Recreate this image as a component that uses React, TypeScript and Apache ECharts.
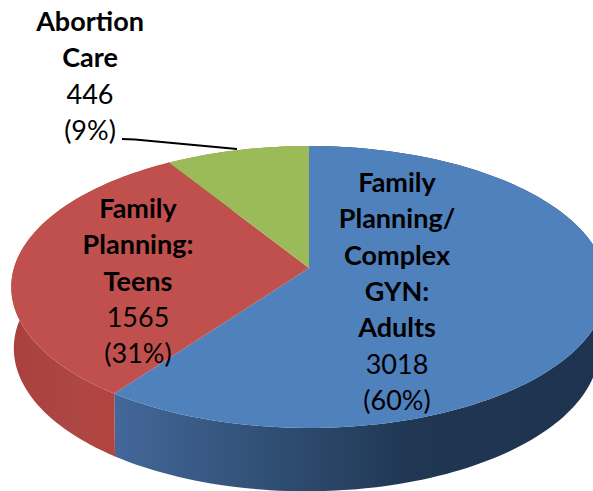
import React, { useEffect, useRef } from "react";
import * as echarts from "echarts";

const categories = [
  ["Family", "Planning/", "Complex", "GYN:", "Adults"],
  ["Family", "Planning:", "Teens"],
  ["Abortion", "Care"],
];
const values = [3018, 1565, 446];
const percents = ["(60%)", "(31%)", "(9%)"];
const topColors = ["#4F81BD", "#C0504D", "#9BBB59"];

const FONT = "Lato";
const total = values.reduce((a, b) => a + b, 0);

// perspective projection of the disc
const K = 0.1348;
const project = (deg: number, cx: number, cy: number, A: number, B: number) => {
  const t = (deg * Math.PI) / 180;
  const X = Math.sin(t);
  const Y = -Math.cos(t);
  const w = 1 - K * Y;
  return [cx + (A * X) / w, cy + (B * Y) / w];
};
const rimTop = (d: number) => project(d, 309, 268, 295, 138.4);
const rimBase = (d: number) => project(d, 306.5, 329, 290, 140.4);

const sliceAngles = (i: number) => {
  let s = 0;
  for (let j = 0; j < i; j++) s += values[j];
  return [(s / total) * 360, ((s + values[i]) / total) * 360];
};
const arc = (a: number, b: number, f: (d: number) => number[]) => {
  const pts: number[][] = [];
  const n = Math.max(2, Math.ceil((b - a) / 1.5));
  for (let k = 0; k <= n; k++) pts.push(f(a + ((b - a) * k) / n));
  return pts;
};

const wallFills = [
  new echarts.graphic.LinearGradient(
    117, 0, 593, 0,
    [
      { offset: 0, color: "#43679A" },
      { offset: 0.2, color: "#365881" },
      { offset: 0.45, color: "#294566" },
      { offset: 0.62, color: "#203653" },
      { offset: 1, color: "#1E3350" },
    ],
    true
  ),
  new echarts.graphic.LinearGradient(
    12, 0, 117, 0,
    [
      { offset: 0, color: "#A9403D" },
      { offset: 0.6, color: "#AD4744" },
      { offset: 1, color: "#B5433F" },
    ],
    true
  ),
  "#7F9A49",
];

const labelPlaces = [
  { x: 397, y: 290.5 },
  { x: 138, y: 280 },
  { x: 90, y: 75 },
];

export default function App() {
  const ref = useRef<HTMLDivElement>(null);
  useEffect(() => {
    document.body.style.margin = "0";
    const chart = echarts.init(ref.current!, undefined, { renderer: "svg" });
    const data = values.map((v) => ({ value: v }));
    chart.setOption({
      animation: false,
      backgroundColor: "#fff",
      series: [
        {
          type: "custom",
          coordinateSystem: "none",
          silent: true,
          z: 1,
          data,
          renderItem: (p: any) => {
            const [a, b] = sliceAngles(p.dataIndex);
            const points = [...arc(a, b, rimTop), ...arc(a, b, rimBase).reverse()];
            return {
              type: "polygon",
              shape: { points },
              style: { fill: wallFills[p.dataIndex] },
            };
          },
        },
        {
          type: "custom",
          coordinateSystem: "none",
          silent: true,
          z: 2,
          data,
          renderItem: (p: any) => {
            const [a, b] = sliceAngles(p.dataIndex);
            const points = [[309, 268], ...arc(a, b, rimTop)];
            return {
              type: "polygon",
              shape: { points },
              style: { fill: topColors[p.dataIndex] },
            };
          },
        },
        {
          type: "custom",
          coordinateSystem: "none",
          silent: true,
          z: 3,
          data,
          renderItem: (p: any, api: any) => {
            const i = p.dataIndex;
            const text = [
              ...categories[i].map((l) => `{b|${l}}`),
              `{r|${api.value(0)}}`,
              `{r|${percents[i]}}`,
            ].join("\n");
            const label = {
              type: "text",
              x: labelPlaces[i].x,
              y: labelPlaces[i].y,
              style: {
                text,
                align: "center",
                verticalAlign: "middle",
                fill: "#000",
                rich: {
                  b: { fontFamily: FONT, fontSize: 27, fontWeight: "bold", lineHeight: 36.3, fill: "#000", align: "center" },
                  r: { fontFamily: FONT, fontSize: 27, fontWeight: "normal", lineHeight: 36.3, fill: "#000", align: "center" },
                },
              },
            };
            if (i !== 2) return label;
            return {
              type: "group",
              children: [
                label,
                {
                  type: "polyline",
                  shape: { points: [[122, 139], [135, 139.5], [237, 149]] },
                  style: { stroke: "#000", lineWidth: 2, fill: "none" },
                },
              ],
            };
          },
        },
      ],
    });
    return () => chart.dispose();
  }, []);
  return <div ref={ref} style={{ width: 593, height: 491, overflow: "hidden" }} />;
}
